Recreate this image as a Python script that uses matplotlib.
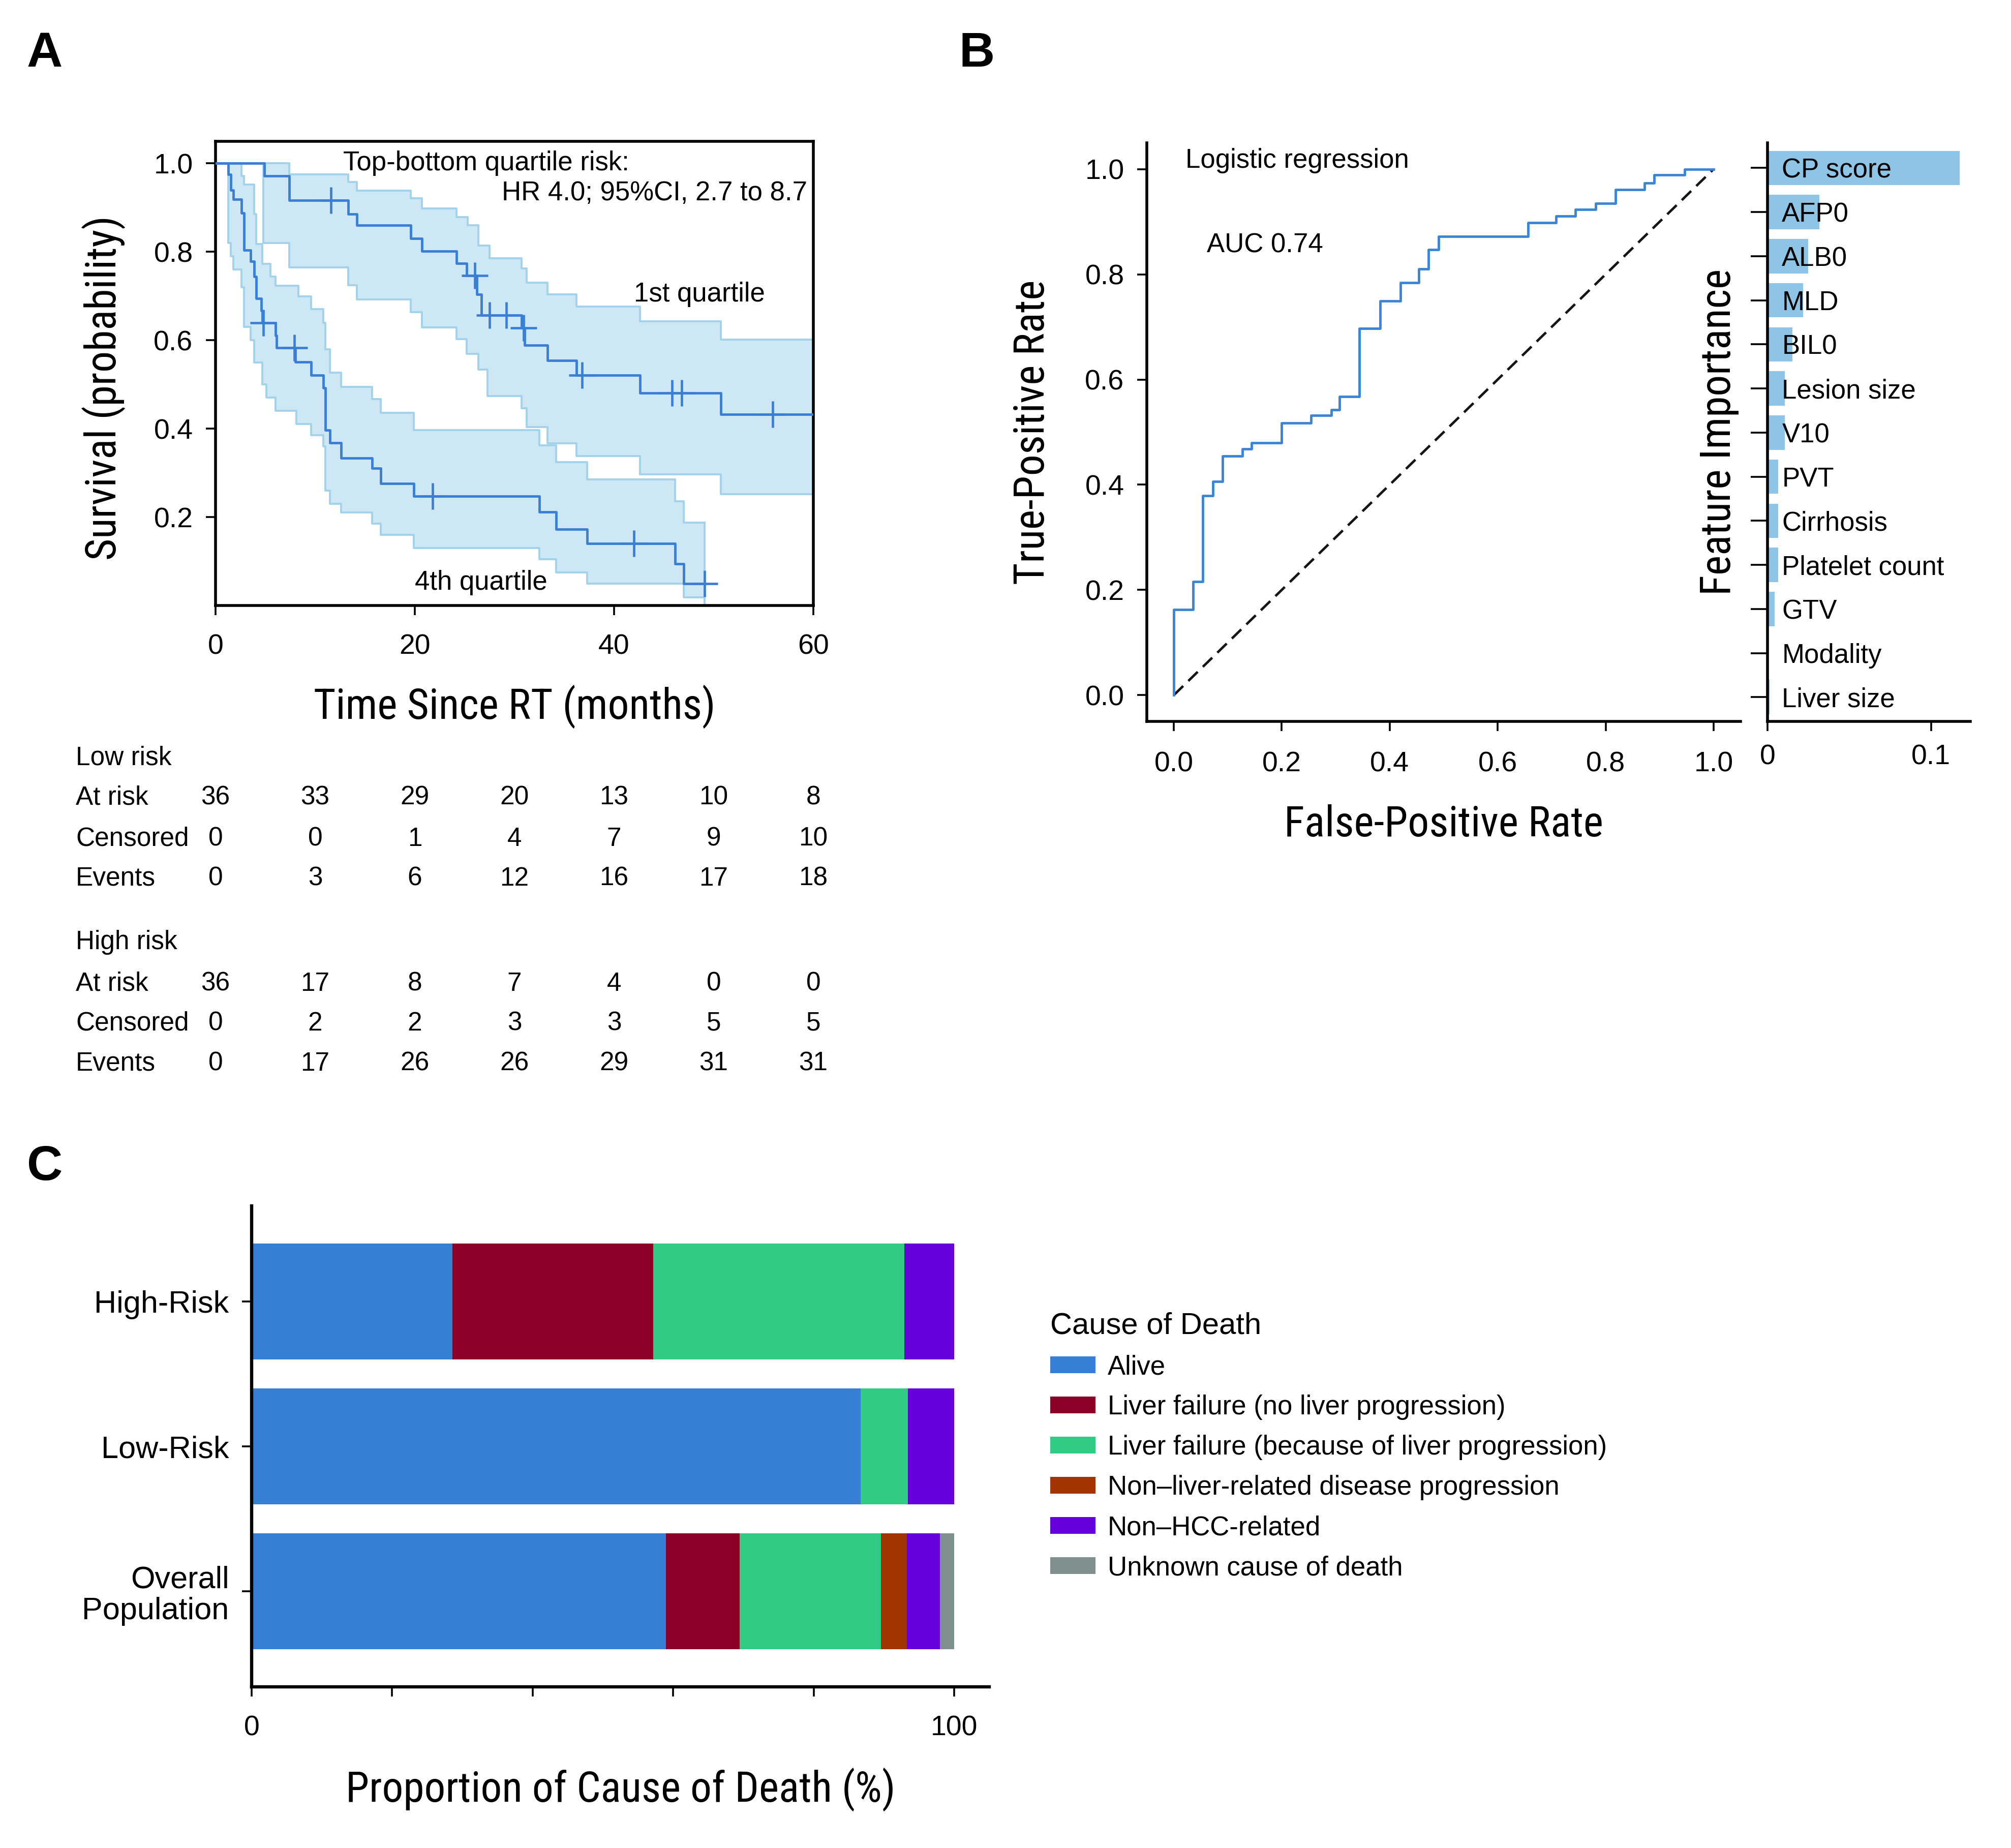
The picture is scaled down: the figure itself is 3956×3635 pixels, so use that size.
import numpy as np
import matplotlib
matplotlib.use("Agg")
import matplotlib.pyplot as plt
from matplotlib import font_manager as fm
from matplotlib.font_manager import FontProperties
import matplotlib.transforms as mtransforms

# ---------------- Panel A: Kaplan-Meier data ----------------
low_times = [0, 4.9, 7.4, 13.3, 14.2, 19.6, 20.7, 24.2, 25.2, 26.2, 26.7, 30.7, 31.0, 33.3, 36.2, 42.6, 50.7]
low_surv = [1.0, 0.972, 0.917, 0.886, 0.860, 0.830, 0.802, 0.774, 0.746, 0.704, 0.657, 0.628, 0.589, 0.554, 0.521, 0.481, 0.432]
low_end = 60.0
low_censor = [11.6, 26.0, 27.5, 29.2, 30.9, 36.8, 45.8, 46.8, 55.9]
low_up_t = [0, 7.4, 13.3, 14.2, 19.6, 20.7, 24.2, 25.3, 26.4, 27.5, 30.7, 31.2, 33.3, 36.2, 42.6, 50.7]
low_up_v = [1.0, 0.975, 0.958, 0.938, 0.921, 0.898, 0.879, 0.860, 0.814, 0.786, 0.762, 0.730, 0.704, 0.676, 0.643, 0.601]
low_lo_t = [0, 4.8, 7.4, 13.3, 14.2, 19.6, 20.7, 24.2, 25.2, 26.4, 27.3, 30.7, 31.2, 33.3, 36.2, 42.6, 50.7]
low_lo_v = [1.0, 0.820, 0.765, 0.725, 0.692, 0.664, 0.629, 0.603, 0.569, 0.534, 0.474, 0.446, 0.404, 0.367, 0.338, 0.297, 0.252]

high_times = [0, 1.3, 1.55, 1.8, 2.6, 2.85, 3.5, 3.9, 4.1, 4.6, 4.7, 6.0, 6.1, 8.0, 9.6, 10.8, 11.0,
              11.5, 12.6, 15.7, 16.6, 19.9, 32.5, 34.2, 37.3, 46.1, 47.0]
high_surv = [1.0, 0.975, 0.940, 0.919, 0.888, 0.804, 0.779, 0.744, 0.695, 0.667, 0.639, 0.611, 0.583, 0.551,
             0.521, 0.492, 0.397, 0.368, 0.334, 0.310, 0.276, 0.247, 0.212, 0.173, 0.140, 0.094, 0.049]
high_end = 49.1
high_censor = [4.8, 7.9, 21.8, 42.0, 49.1]
high_up_t = [0, 2.6, 2.85, 3.9, 4.1, 4.7, 5.5, 6.0, 8.3, 9.6, 10.8, 11.0, 11.5, 12.6, 15.7, 16.6, 19.9,
             32.5, 34.2, 37.3, 46.1, 47.0]
high_up_v = [1.0, 0.972, 0.952, 0.885, 0.818, 0.773, 0.744, 0.723, 0.699, 0.671, 0.640, 0.580, 0.527, 0.495,
             0.467, 0.436, 0.397, 0.362, 0.324, 0.285, 0.236, 0.187]
high_lo_t = [0, 1.3, 1.55, 1.8, 2.6, 2.85, 3.5, 3.9, 4.7, 5.1, 6.0, 8.1, 9.6, 10.8, 11.0, 11.5, 12.6,
             15.7, 16.6, 19.9, 32.5, 34.2, 37.3, 47.0]
high_lo_v = [1.0, 0.820, 0.790, 0.760, 0.720, 0.630, 0.600, 0.550, 0.500, 0.470, 0.440, 0.410, 0.385, 0.360,
             0.260, 0.230, 0.210, 0.185, 0.160, 0.130, 0.105, 0.075, 0.050, 0.018]

table_times = [0, 10, 20, 30, 40, 50, 60]
low_at_risk = [36, 33, 29, 20, 13, 10, 8]
low_censored = [0, 0, 1, 4, 7, 9, 10]
low_events = [0, 3, 6, 12, 16, 17, 18]
high_at_risk = [36, 17, 8, 7, 4, 0, 0]
high_censored = [0, 2, 2, 3, 3, 5, 5]
high_events = [0, 17, 26, 26, 29, 31, 31]

# ---------------- Panel B: ROC + feature importance ----------------
roc_fpr = [0, 0, 0.036, 0.054, 0.072, 0.090, 0.127, 0.144, 0.200, 0.254, 0.292, 0.307, 0.344, 0.382,
           0.420, 0.454, 0.472, 0.491, 0.656, 0.708, 0.744, 0.782, 0.818, 0.872, 0.890, 0.946, 1.0]
roc_tpr = [0, 0.163, 0.216, 0.379, 0.406, 0.455, 0.468, 0.480, 0.517, 0.532, 0.543, 0.568, 0.697, 0.749,
           0.784, 0.810, 0.847, 0.872, 0.898, 0.911, 0.923, 0.935, 0.961, 0.974, 0.989, 1.0, 1.0]

features = ["CP score", "AFP0", "ALB0", "MLD", "BIL0", "Lesion size", "V10", "PVT", "Cirrhosis",
            "Platelet count", "GTV", "Modality", "Liver size"]
importance = [0.1174, 0.0317, 0.0250, 0.0218, 0.0153, 0.0105, 0.0105, 0.0065, 0.0065, 0.0065, 0.0045,
              0.0, 0.0012]

# ---------------- Panel C: cause of death ----------------
groups = ["High-Risk", "Low-Risk", "Overall\nPopulation"]
causes = ["Alive", "Liver failure (no liver progression)", "Liver failure (because of liver progression)",
          "Non\u2013liver-related disease progression", "Non\u2013HCC-related", "Unknown cause of death"]
alive = [28.6, 86.7, 59.0]
lf_no_prog = [28.6, 0.0, 10.5]
lf_prog = [35.7, 6.7, 20.1]
non_liver = [0.0, 0.0, 3.7]
non_hcc = [7.1, 6.6, 4.7]
unknown = [0.0, 0.0, 2.0]
cause_colors = ["#3580d5", "#8b0026", "#30cc85", "#a23400", "#6500dd", "#7f8f8e"]

# ---------------- fonts ----------------
def pick_condensed():
    names = {f.name for f in fm.fontManager.ttflist}
    for p in ["Liberation Sans Narrow", "Roboto Condensed", "Open Sans Condensed", "Noto Sans Condensed",
              "DejaVu Sans Condensed", "Arial Narrow"]:
        if p in names:
            return {"family": p}
    for fam in ["Roboto", "Noto Sans", "Open Sans", "Liberation Sans", "DejaVu Sans"]:
        for f in fm.fontManager.ttflist:
            if f.name == fam and str(f.stretch) in ("condensed", "semi-condensed", "extra-condensed"):
                return {"family": fam, "stretch": "condensed"}
    return {"family": "Liberation Sans"}

COND = pick_condensed()
NORM = {"family": "Liberation Sans"}

def fp(base, size, **kw):
    d = dict(base)
    d.update(kw)
    return FontProperties(size=size, **d)

W, H = 3956, 3635
fig = plt.figure(figsize=(W / 100, H / 100), dpi=100)

def ax_px(left, top, right, bottom):
    return fig.add_axes([left / W, 1 - bottom / H, (right - left) / W, (bottom - top) / H])

SPINE_W = 4.0
TICK_KW = dict(length=14, width=2.6, direction="out", pad=18)
XPAD = 26
TICK_SIZE = 40
LABEL_SIZE = 60

KM_COLOR = "#3a7fd5"
BAND_FILL = "#cde7f4"
BAND_EDGE = "#a3d2eb"

def step_eval(times, vals, t):
    idx = np.searchsorted(np.asarray(times), t, side="right") - 1
    return np.asarray(vals)[np.clip(idx, 0, len(vals) - 1)]

# ======================= Panel A =======================
axA = ax_px(424, 278, 1600, 1191)
bands = [(low_up_t, low_up_v, low_lo_t, low_lo_v, low_end),
         (high_up_t, high_up_v, high_lo_t, high_lo_v, high_end)]
for (ut, uv, lt, lv, end) in bands:
    grid = np.unique(np.r_[ut, lt, end])
    up = step_eval(ut, uv, grid)
    lo = step_eval(lt, lv, grid)
    axA.fill_between(grid, lo, up, step="post", color=BAND_FILL, lw=0, zorder=1)
for (ut, uv, lt, lv, end) in bands:
    axA.step(np.r_[ut, end], np.r_[uv, uv[-1]], where="post", color=BAND_EDGE, lw=2.8, zorder=2)
    axA.step(np.r_[lt, end], np.r_[lv, lv[-1]], where="post", color=BAND_EDGE, lw=2.8, zorder=2)
    if end < 60:
        axA.plot([end, end], [0, uv[-1]], color=BAND_EDGE, lw=2.8, zorder=2)

for (t, s, end, cens) in [(low_times, low_surv, low_end, low_censor),
                          (high_times, high_surv, high_end, high_censor)]:
    axA.step(np.r_[t, end], np.r_[s, s[-1]], where="post", color=KM_COLOR, lw=3.5, zorder=3)
    cy = step_eval(t, s, np.asarray(cens))
    axA.plot(cens, cy, ls="none", marker="+", ms=37, mew=3.4, color=KM_COLOR, zorder=4)

axA.set_xlim(0, 60)
axA.set_ylim(0, 1.05)
axA.set_xticks([0, 20, 40, 60])
axA.set_yticks([0.2, 0.4, 0.6, 0.8, 1.0])
axA.set_yticklabels(["0.2", "0.4", "0.6", "0.8", "1.0"])
axA.tick_params(**TICK_KW)
axA.tick_params(axis="x", pad=XPAD)
for sp in axA.spines.values():
    sp.set_linewidth(SPINE_W)
for lbl in axA.get_xticklabels() + axA.get_yticklabels():
    lbl.set_fontproperties(fp(NORM, TICK_SIZE))
axA.set_xlabel("Time Since RT (months)", fontproperties=fp(COND, LABEL_SIZE))
axA.set_ylabel("Survival (probability)", fontproperties=fp(COND, LABEL_SIZE))
axA.xaxis.label.set_va("center")
axA.yaxis.label.set_va("center")
axA.xaxis.set_label_coords(0.5, -0.218)
axA.yaxis.set_label_coords(-0.187, 0.469)

ANN = fp(NORM, 38)
axA.text(12.8, 1.0, "Top-bottom quartile risk:", fontproperties=ANN, va="center", ha="left")
axA.text(59.4, 0.933, "HR 4.0; 95%CI, 2.7 to 8.7", fontproperties=ANN, va="center", ha="right")
axA.text(42.0, 0.704, "1st quartile", fontproperties=ANN, va="center", ha="left")
axA.text(20.0, 0.052, "4th quartile", fontproperties=ANN, va="center", ha="left")

# at-risk table
trans = mtransforms.blended_transform_factory(axA.transData, fig.transFigure)
rows = [("Low risk", None, 1491), ("At risk", low_at_risk, 1569), ("Censored", low_censored, 1650),
        ("Events", low_events, 1728), ("High risk", None, 1854), ("At risk", high_at_risk, 1935),
        ("Censored", high_censored, 2013), ("Events", high_events, 2092)]
TAB = fp(NORM, 37)
for label, vals, ypx in rows:
    yf = 1 - ypx / H
    fig.text(149 / W, yf, label, fontproperties=TAB, ha="left", va="center")
    if vals is not None:
        for tt, v in zip(table_times, vals):
            fig.text(tt, yf, str(v), transform=trans, fontproperties=TAB, ha="center", va="center")

# ======================= Panel B: ROC =======================
axB = ax_px(2256, 281, 3424, 1419)
axB.step(roc_fpr, roc_tpr, where="post", color="#3a85d8", lw=3.5, zorder=3)
axB.plot([0, 1], [0, 1], color="#151515", lw=3.5, dashes=(5.3, 2.9), zorder=2)
axB.set_xlim(-0.05, 1.05)
axB.set_ylim(-0.05, 1.05)
ticks = [0.0, 0.2, 0.4, 0.6, 0.8, 1.0]
axB.set_xticks(ticks)
axB.set_yticks(ticks)
axB.set_xticklabels([f"{t:.1f}" for t in ticks])
axB.set_yticklabels([f"{t:.1f}" for t in ticks])
axB.spines["top"].set_visible(False)
axB.spines["right"].set_visible(False)
axB.spines["left"].set_linewidth(SPINE_W)
axB.spines["bottom"].set_linewidth(SPINE_W)
axB.tick_params(**TICK_KW)
axB.tick_params(axis="x", pad=XPAD + 2)
for lbl in axB.get_xticklabels() + axB.get_yticklabels():
    lbl.set_fontproperties(fp(NORM, TICK_SIZE))
axB.set_xlabel("False-Positive Rate", fontproperties=fp(COND, LABEL_SIZE))
axB.set_ylabel("True-Positive Rate", fontproperties=fp(COND, LABEL_SIZE))
axB.xaxis.label.set_va("center")
axB.yaxis.label.set_va("center")
axB.xaxis.set_label_coords(0.5, -0.178)
axB.yaxis.set_label_coords(-0.193, 0.5)
axB.text(0.022, 1.016, "Logistic regression", fontproperties=fp(NORM, 38), va="center", ha="left")
axB.text(0.061, 0.855, "AUC 0.74", fontproperties=fp(NORM, 38), va="center", ha="left")

# ======================= Panel B: feature importance =======================
axF = ax_px(3477, 281, 3876, 1419)
ypos = np.arange(len(features))
axF.barh(ypos, importance, height=0.78, color="#8ec4e6", zorder=1)
for i, name in enumerate(features):
    axF.text(0.0088, i, name, fontproperties=fp(NORM, 38), va="center_baseline", ha="left", zorder=3)
axF.set_xlim(0, 0.124)
axF.set_ylim(len(features) - 0.45, -0.57)
axF.set_yticks(ypos)
axF.set_yticklabels([])
axF.set_xticks([0, 0.1])
axF.set_xticklabels(["0", "0.1"])
axF.spines["top"].set_visible(False)
axF.spines["right"].set_visible(False)
axF.spines["left"].set_linewidth(SPINE_W)
axF.spines["bottom"].set_linewidth(SPINE_W)
axF.tick_params(axis="x", **TICK_KW)
axF.tick_params(axis="y", length=24, width=2.6, direction="out")
for lbl in axF.get_xticklabels():
    lbl.set_fontproperties(fp(NORM, TICK_SIZE))
axF.set_ylabel("Feature Importance", fontproperties=fp(COND, LABEL_SIZE))
axF.yaxis.label.set_va("center")
axF.yaxis.set_label_coords(-0.24, 0.5)

# ======================= Panel C =======================
axC = ax_px(495, 2372, 1946, 3318)
series = [alive, lf_no_prog, lf_prog, non_liver, non_hcc, unknown]
left = np.zeros(len(groups))
gpos = np.arange(len(groups))
for vals, lab, col in zip(series, causes, cause_colors):
    axC.barh(gpos, vals, left=left, height=0.8, color=col, label=lab, lw=0)
    left = left + np.asarray(vals)
axC.set_xlim(0, 105)
axC.set_ylim(len(groups) - 0.34, -0.66)
axC.set_yticks(gpos)
axC.set_yticklabels(groups)
axC.set_xticks([0, 20, 40, 60, 80, 100])
axC.set_xticklabels(["0", "", "", "", "", "100"])
axC.spines["top"].set_visible(False)
axC.spines["right"].set_visible(False)
axC.spines["left"].set_linewidth(SPINE_W + 0.6)
axC.spines["bottom"].set_linewidth(SPINE_W + 0.6)
axC.tick_params(**TICK_KW)
axC.tick_params(axis="x", pad=XPAD)
axC.tick_params(axis="y", pad=18)
for lbl in axC.get_xticklabels():
    lbl.set_fontproperties(fp(NORM, TICK_SIZE))
for lbl in axC.get_yticklabels():
    lbl.set_fontproperties(fp(NORM, 44))
    lbl.set_multialignment("right")
    lbl.set_linespacing(1.1)
axC.set_xlabel("Proportion of Cause of Death (%)", fontproperties=fp(COND, LABEL_SIZE))
axC.xaxis.label.set_va("center")
axC.xaxis.set_label_coords(0.5, -0.2135)

leg = axC.legend(loc="upper left", bbox_to_anchor=(2066 / W, 1 - 2580 / H), bbox_transform=fig.transFigure,
                 frameon=False, borderaxespad=0, borderpad=0, prop=fp(NORM, 38),
                 title="Cause of Death", title_fontproperties=fp(NORM, 43), alignment="left",
                 handlelength=1.69, handleheight=0.57, handletextpad=0.45, labelspacing=0.55)

# panel letters
for letter, xpx, ypx in [("A", 88, 106), ("B", 1922, 106), ("C", 88, 2296)]:
    fig.text(xpx / W, 1 - ypx / H, letter, fontproperties=fp(NORM, 70, weight="bold"), ha="center", va="center")

fig.savefig("out.png", dpi=100)
